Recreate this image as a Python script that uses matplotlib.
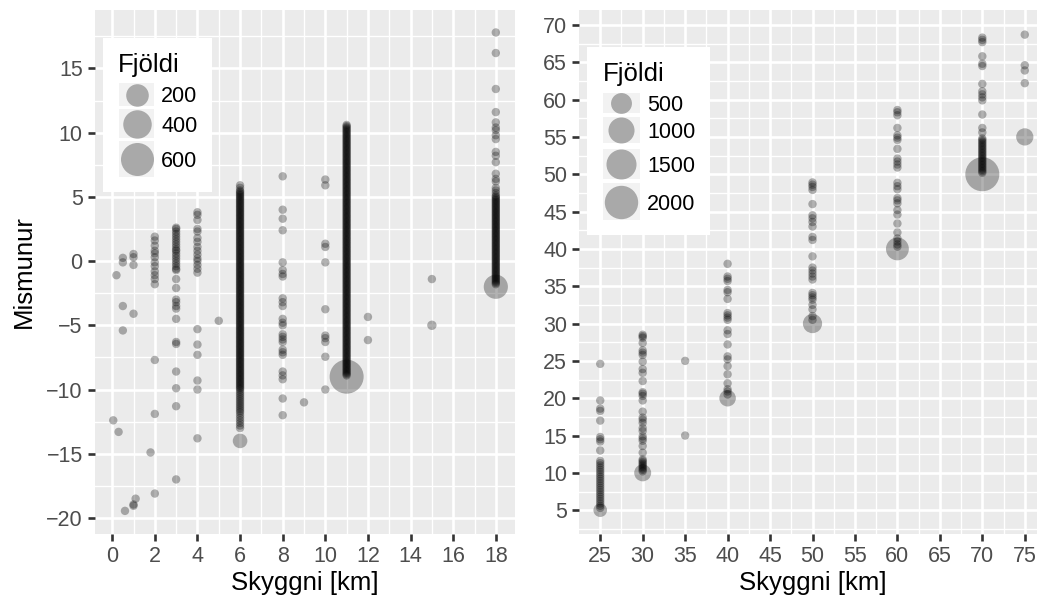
import numpy as np
import matplotlib
matplotlib.use("Agg")
import matplotlib.pyplot as plt
from matplotlib.patches import Rectangle
from matplotlib.ticker import FixedLocator

plt.rcParams['font.family'] = ['Liberation Sans', 'DejaVu Sans']

# ---------------- data ----------------
# Left panel: Skyggni [km] -> list of Mismunur values (one observation each)
left_cols = {
    0.05: [-12.4],
    0.2: [-1.1],
    0.3: [-13.3],
    0.5: [0.25, -0.1, -3.5, -5.4],
    0.6: [-19.45],
    1.0: [0.55, 0.3, -0.3, -4.1, -18.95, -19.05],
    1.1: [-18.5],
    1.8: [-14.9],
    2: [1.9, 1.6, 1.2, 0.8, 0.6, 0.3, -0.1, -0.4, -0.8, -1.1, -1.4, -1.8, -7.7, -11.9, -18.1],
    3: [2.6, 2.5, 2.3, 2.1, 1.9, 1.7, 1.5, 1.3, 1.1, 0.9, 0.8, 0.6, 0.4, 0.2, 0.0, -0.2, -0.4, -0.6,
        -0.7, -1.4, -2.1, -3.0, -3.2, -3.5, -3.7, -4.5, -6.3, -6.45, -8.6, -9.9, -11.3, -17.0],
    4: [3.8, 3.6, 3.2, 2.5, 2.3, 1.8, 1.5, 1.1, 0.8, 0.5, 0.2, 0.0, -0.3, -0.6, -0.9,
        -5.3, -6.5, -7.3, -9.3, -10.0, -13.8],
    5: [-4.65],
    6: [5.9, 5.7, 5.5, 5.4, 5.3, 5.2, 5.1, 5.0, 4.9, 4.8, 4.7, 4.6, 4.5, 4.4, 4.3, 4.2, 4.1, 4.0,
        3.9, 3.8, 3.7, 3.6, 3.5, 3.4, 3.3, 3.2, 3.1, 3.0, 2.9, 2.8, 2.7, 2.6, 2.5, 2.4, 2.3, 2.2,
        2.1, 2.0, 1.9, 1.8, 1.7, 1.6, 1.5, 1.4, 1.3, 1.2, 1.1, 1.0, 0.9, 0.8, 0.7, 0.6, 0.5, 0.4,
        0.3, 0.2, 0.1, 0.0, -0.1, -0.2, -0.3, -0.4, -0.5, -0.6, -0.7, -0.8, -0.9, -1.0, -1.1,
        -1.2, -1.3, -1.4, -1.5, -1.6, -1.7, -1.8, -1.9, -2.0, -2.1, -2.2, -2.3, -2.4, -2.5, -2.6,
        -2.7, -2.8, -2.9, -3.0, -3.1, -3.2, -3.3, -3.4, -3.5, -3.6, -3.7, -3.8, -3.9, -4.0, -4.1,
        -4.2, -4.3, -4.4, -4.5, -4.6, -4.7, -4.8, -4.9, -5.0, -5.1, -5.2, -5.3, -5.4, -5.5, -5.6,
        -5.7, -5.8, -5.9, -6.0, -6.1, -6.2, -6.3, -6.4, -6.5, -6.6, -6.7, -6.8, -6.9, -7.0, -7.1,
        -7.2, -7.3, -7.4, -7.5, -7.6, -7.7, -7.8, -7.9, -8.0, -8.1, -8.2, -8.3, -8.4, -8.5, -8.6,
        -8.7, -8.8, -8.9, -9.0, -9.1, -9.2, -9.3, -9.4, -9.5, -9.6, -9.7, -9.8, -9.9, -10.0,
        -10.15, -10.3, -10.45, -10.6, -10.75, -10.9, -11.05, -11.2, -11.35, -11.5, -11.65, -11.8,
        -12.0, -12.2, -12.4, -12.6, -12.8, -13.0],
    8: [6.6, 4.0, 3.3, 2.4, -0.1, -0.7, -1.0, -1.2, -2.9, -3.2, -3.5, -4.5, -4.8, -5.0, -5.7,
        -5.9, -6.1, -6.3, -6.9, -7.1, -7.3, -8.6, -8.9, -9.2, -10.7, -12.0],
    9: [-11.0],
    10: [6.35, 5.9, 1.35, 1.1, -0.1, -3.75, -5.8, -6.0, -6.3, -7.45, -10.0],
    11: [10.6, 10.5, 10.4, 10.3, 10.2, 10.1, 10.0, 9.9, 9.8, 9.7, 9.6, 9.5, 9.4, 9.3, 9.2, 9.1,
         9.0, 8.9, 8.8, 8.7, 8.6, 8.5, 8.4, 8.3, 8.2, 8.1, 8.0, 7.9, 7.8, 7.7, 7.6, 7.5, 7.4, 7.3,
         7.2, 7.1, 7.0, 6.9, 6.8, 6.7, 6.6, 6.5, 6.4, 6.3, 6.2, 6.1, 6.0, 5.9, 5.8, 5.7, 5.6, 5.5,
         5.4, 5.3, 5.2, 5.1, 5.0, 4.9, 4.8, 4.7, 4.6, 4.5, 4.4, 4.3, 4.2, 4.1, 4.0, 3.9, 3.8, 3.7,
         3.6, 3.5, 3.4, 3.3, 3.2, 3.1, 3.0, 2.9, 2.8, 2.7, 2.6, 2.5, 2.4, 2.3, 2.2, 2.1, 2.0, 1.9,
         1.8, 1.7, 1.6, 1.5, 1.4, 1.3, 1.2, 1.1, 1.0, 0.9, 0.8, 0.7, 0.6, 0.5, 0.4, 0.3, 0.2, 0.1,
         0.0, -0.1, -0.2, -0.3, -0.4, -0.5, -0.6, -0.7, -0.8, -0.9, -1.0, -1.1, -1.2, -1.3, -1.4,
         -1.5, -1.6, -1.7, -1.8, -1.9, -2.0, -2.1, -2.2, -2.3, -2.4, -2.5, -2.6, -2.7, -2.8, -2.9,
         -3.0, -3.1, -3.2, -3.3, -3.4, -3.5, -3.6, -3.7, -3.8, -3.9, -4.0, -4.1, -4.2, -4.3, -4.4,
         -4.5, -4.6, -4.7, -4.8, -4.9, -5.0, -5.1, -5.2, -5.3, -5.4, -5.5, -5.6, -5.7, -5.8, -5.9,
         -6.0, -6.1, -6.2, -6.3, -6.4, -6.5, -6.6, -6.7, -6.8, -6.9, -7.0, -7.1, -7.2, -7.3, -7.4,
         -7.5, -7.6, -7.7, -7.8, -7.9, -8.0, -8.1, -8.2, -8.3, -8.4, -8.5, -8.6, -8.7, -8.8, -8.9],
    12: [-4.35, -6.15],
    15: [-1.4],
    18: [17.8, 16.2, 13.4, 11.6, 10.8, 10.4, 10.2, 9.8, 9.5, 8.5, 8.2, 7.7, 6.8, 6.4, 6.2, 5.7,
         5.5, 5.3, 5.1, 5.0, 4.9, 4.8, 4.7, 4.6, 4.5, 4.4, 4.3, 4.2, 4.1, 4.0, 3.9, 3.8, 3.7, 3.6,
         3.5, 3.4, 3.3, 3.2, 3.1, 3.0, 2.9, 2.8, 2.7, 2.6, 2.5, 2.4, 2.3, 2.2, 2.1, 2.0, 1.9, 1.8,
         1.7, 1.6, 1.5, 1.4, 1.3, 1.2, 1.1, 1.0, 0.9, 0.8, 0.7, 0.6, 0.5, 0.4, 0.3, 0.2, 0.1, 0.0,
         -0.1, -0.2, -0.3, -0.4, -0.5, -0.6, -0.7, -0.8, -0.9, -1.0, -1.1, -1.2, -1.3, -1.4, -1.5,
         -1.6, -1.7, -1.8],
}
# Left panel points with larger counts
left_big_x = [6, 11, 18, 15]
left_big_y = [-14.0, -9.0, -2.0, -5.0]
left_big_n = [39, 650, 247, 2]
left_legend_vals = [200, 400, 600]

# Right panel
right_cols = {
    25: [24.6, 19.7, 18.6, 18.3, 17.0, 14.8, 14.5, 14.2, 13.0, 11.6, 11.3, 11.0, 10.7, 10.4, 10.1,
         9.8, 9.5, 9.2, 8.9, 8.6, 8.3, 8.0, 7.7, 7.4, 7.1, 6.8, 6.5, 6.2, 5.9, 5.6, 5.3],
    30: [28.5, 28.3, 28.1, 27.4, 26.4, 26.1, 25.8, 24.9, 23.9, 23.4, 22.3, 20.8, 20.6, 20.3, 19.7,
         18.2, 17.4, 17.1, 16.7, 16.0, 15.6, 14.9, 14.6, 14.3, 13.6, 12.7, 11.8, 11.6, 11.4, 11.2,
         11.0, 10.8, 10.6, 10.4, 10.2],
    35: [25.0, 15.0],
    40: [38.0, 36.3, 36.0, 35.7, 34.5, 34.2, 33.3, 31.4, 31.1, 30.8, 30.5, 29.1, 28.6, 27.2, 25.6,
         25.2, 24.3, 23.2, 22.0, 21.2, 20.9, 20.5],
    50: [48.9, 48.6, 48.3, 47.9, 46.0, 44.5, 44.1, 43.6, 43.0, 41.6, 41.2, 39.0, 37.5, 37.1, 36.7,
         36.3, 35.9, 34.1, 33.8, 33.5, 33.2, 32.5, 31.9, 31.0, 30.5],
    60: [58.6, 58.3, 57.9, 56.2, 55.2, 54.9, 54.6, 53.4, 52.1, 51.7, 51.3, 50.9, 48.85, 48.4, 48.0,
         46.8, 46.5, 46.1, 45.2, 44.6, 43.4, 42.2, 41.4, 41.0, 40.6, 40.3],
    70: [68.3, 68.0, 67.7, 65.8, 64.8, 64.5, 62.1, 61.1, 60.7, 60.3, 59.9, 58.0, 56.2, 55.6, 54.8,
         54.6, 54.4, 54.2, 54.0, 53.8, 53.6, 53.4, 53.2, 53.0, 52.8, 52.6, 52.4, 52.2, 52.0, 51.8,
         51.6, 51.4, 51.2, 51.0, 50.8, 50.6, 50.4, 50.2],
    75: [68.7, 64.6, 63.9, 62.2],
}
right_big_x = [25, 30, 40, 50, 60, 70, 75]
right_big_y = [5.0, 10.0, 20.0, 30.0, 40.0, 50.0, 55.0]
right_big_n = [88, 236, 214, 377, 672, 2100, 252]
right_legend_vals = [500, 1000, 1500, 2000]

# ---------------- figure ----------------
W, H, DPI = 1037, 601, 100
fig = plt.figure(figsize=(W / DPI, H / DPI), dpi=DPI)


def rect(x0, y0, x1, y1):
    return [x0 / W, 1 - y1 / H, (x1 - x0) / W, (y1 - y0) / H]


def size_scale(n, nmax):
    n = np.asarray(n, dtype=float)
    d_px = 8.4 + 25.6 * np.sqrt(np.clip((n - 1) / (nmax - 1), 0, None))
    return (d_px * 72.0 / DPI) ** 2


def build(cols, bx, by, bn):
    xs, ys, ns = [], [], []
    for xv, yl in cols.items():
        xs += [xv] * len(yl)
        ys += list(yl)
        ns += [1] * len(yl)
    xs += list(bx); ys += list(by); ns += list(bn)
    return np.array(xs, float), np.array(ys, float), np.array(ns, float)


def style(ax, xlim, ylim, xmaj, ymaj, xmin, ymin):
    ax.set_facecolor('#EBEBEB')
    for s in ax.spines.values():
        s.set_visible(False)
    ax.set_xlim(*xlim)
    ax.set_ylim(*ylim)
    ax.xaxis.set_major_locator(FixedLocator(xmaj))
    ax.yaxis.set_major_locator(FixedLocator(ymaj))
    ax.xaxis.set_minor_locator(FixedLocator(xmin))
    ax.yaxis.set_minor_locator(FixedLocator(ymin))
    ax.grid(which='major', color='white', linewidth=1.9)
    ax.grid(which='minor', color='white', linewidth=0.95)
    ax.set_axisbelow(True)
    ax.tick_params(which='major', length=5, width=1.9, color='#333333',
                   labelcolor='#4D4D4D', labelsize=15.5, pad=3.5)
    ax.tick_params(which='minor', length=0)


axL = fig.add_axes(rect(94.5, 10, 515, 534))
axR = fig.add_axes(rect(579, 10, 1046, 534))

xL, yL, nL = build(left_cols, left_big_x, left_big_y, left_big_n)
xR, yR, nR = build(right_cols, right_big_x, right_big_y, right_big_n)
nmaxL = max(left_big_n)
nmaxR = max(right_big_n)

axL.scatter(xL, yL, s=size_scale(nL, nmaxL), c='black', alpha=0.3, linewidths=0, zorder=3)
axR.scatter(xR, yR, s=size_scale(nR, nmaxR), c='black', alpha=0.3, linewidths=0, zorder=3)

style(axL, (-0.83, 18.9), (-21.25, 19.55), list(range(0, 19, 2)), list(range(-20, 16, 5)),
      list(range(1, 18, 2)), [-17.5, -12.5, -7.5, -2.5, 2.5, 7.5, 12.5, 17.5])
style(axR, (22.5, 77.5), (1.81, 72.0), list(range(25, 76, 5)), list(range(5, 71, 5)),
      [27.5 + 5 * i for i in range(10)], [2.5 + 5 * i for i in range(14)])

axL.set_xlabel('Skyggni [km]', fontsize=18.5, color='black', labelpad=3)
axR.set_xlabel('Skyggni [km]', fontsize=18.5, color='black', labelpad=3)
axL.set_ylabel('Mismunur', fontsize=18.5, color='black', labelpad=7)

# ---------------- legends (drawn in pixel coordinates) ----------------
ov = fig.add_axes([0, 0, 1, 1], zorder=10)
ov.set_xlim(0, W)
ov.set_ylim(H, 0)
ov.axis('off')


def legend(box, title_xy, keys, cx, label_x, vals, nmax):
    bx0, by0, bx1, by1 = box
    ov.add_patch(Rectangle((bx0, by0), bx1 - bx0, by1 - by0, facecolor='white', edgecolor='none'))
    ov.text(title_xy[0], title_xy[1], 'Fjöldi', fontsize=18.5, color='black', va='baseline', ha='left')
    kx0, kx1 = keys[0]
    for (ky0, ky1), v in zip(keys[1:], vals):
        ov.add_patch(Rectangle((kx0, ky0), kx1 - kx0, ky1 - ky0, facecolor='#F2F2F2', edgecolor='none'))
        ov.scatter([cx], [(ky0 + ky1) / 2], s=size_scale([v], nmax), c='black', alpha=0.3, linewidths=0)
        ov.text(label_x, (ky0 + ky1) / 2, str(v), fontsize=15.5, color='black', va='center_baseline', ha='left')


legend((103, 38, 212, 192), (118, 72), [(119, 154), (83, 106), (109, 138), (141, 177)],
       136.7, 161, left_legend_vals, nmaxL)
legend((587, 47, 710, 235), (602.7, 81),
       [(603, 640), (92.7, 113.3), (116.7, 143.3), (149, 179.3), (183, 220)],
       621.3, 647.3, right_legend_vals, nmaxR)

fig.savefig('out.png', dpi=DPI)
